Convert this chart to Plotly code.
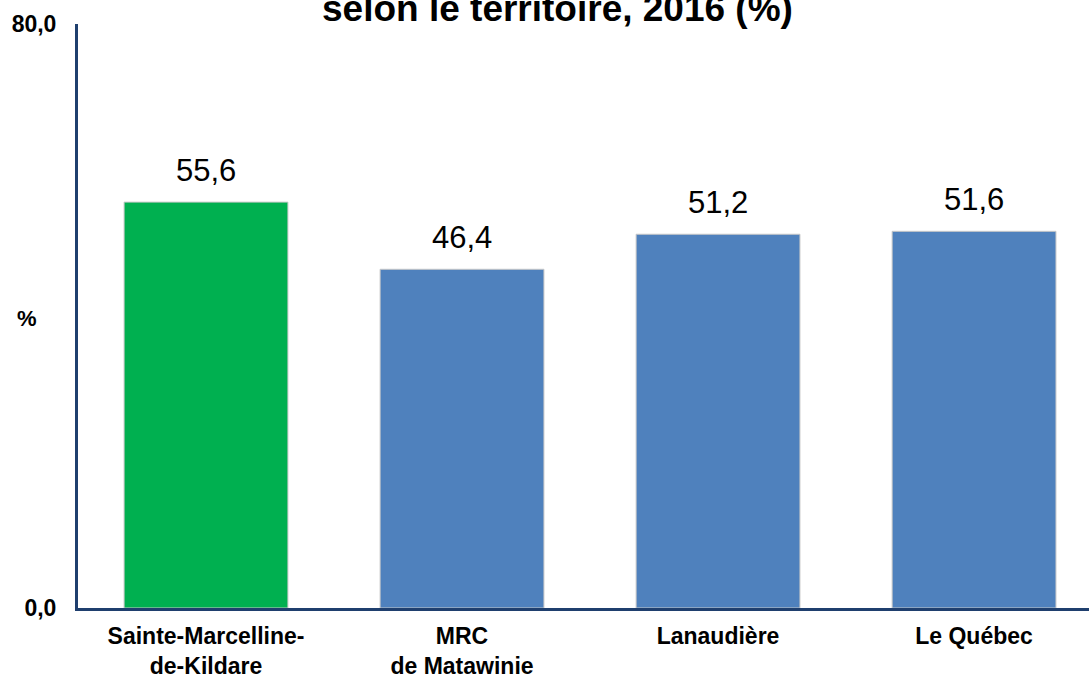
import plotly.graph_objects as go

# Data
territoires = ["Sainte-Marcelline-<br>de-Kildare", "MRC<br>de Matawinie", "Lanaudière", "Le Québec"]
valeurs = [55.6, 46.4, 51.2, 51.6]
couleurs = ["#00B050", "#4F81BD", "#4F81BD", "#4F81BD"]
ytick_vals = [0, 80]
ytick_text = ["0,0", "80,0"]
titre = "selon le territoire, 2016 (%)"

AXIS_COLOR = "#1F3F6E"
FONT = "Liberation Sans, Arial, sans-serif"

# labels with a comma as decimal separator
etiquettes = [f"{v:.1f}".replace(".", ",") for v in valeurs]
xpos = list(range(len(territoires)))

fig = go.Figure()

fig.add_trace(go.Bar(
    x=xpos, y=valeurs,
    marker=dict(color=couleurs, line=dict(color="#C8C8C8", width=1)),
))

# value labels, a bit higher above the bars than plotly's "outside" text
for x, v, lab in zip(xpos, valeurs, etiquettes):
    fig.add_annotation(
        x=x, y=v, text=lab, showarrow=False, yanchor="bottom", yshift=12,
        font=dict(family=FONT, size=31, color="black"),
    )

fig.update_layout(
    width=1089, height=677,
    plot_bgcolor="white", paper_bgcolor="white",
    margin=dict(l=78, r=0, t=24, b=69),
    bargap=0.36,
    showlegend=False,
    font=dict(family=FONT, color="black"),
)

fig.update_xaxes(
    range=[-0.5, 3.449], automargin=False,
    tickvals=xpos, ticktext=territoires,
    tickfont=dict(family=FONT, size=23, color="black", weight="bold"),
    ticklabelstandoff=5,
    showline=True, linecolor=AXIS_COLOR, linewidth=3,
    showgrid=False, zeroline=False, ticks="",
)

fig.update_yaxes(
    range=[0, 80], automargin=False,
    tickvals=ytick_vals, ticktext=ytick_text,
    tickfont=dict(family=FONT, size=23, color="black", weight="bold"),
    ticklabelstandoff=14,
    showline=True, linecolor=AXIS_COLOR, linewidth=3,
    showgrid=False, zeroline=False, ticks="",
)

# "%" axis label, written horizontally
fig.add_annotation(
    text="<b>%</b>", xref="paper", yref="paper", x=-0.05, y=0.495,
    xanchor="center", showarrow=False,
    font=dict(family=FONT, size=22, color="black"),
)

# title (its first line falls outside the image)
fig.add_annotation(
    text=f"<b>{titre}</b>", xref="paper", yref="paper", x=0.474, y=1.0,
    xanchor="center", yanchor="bottom", yshift=-7,
    showarrow=False, font=dict(family=FONT, size=37, color="black"),
)

fig.write_html("out.html", config={"displayModeBar": False},
               post_script="document.body.style.margin='0';")
